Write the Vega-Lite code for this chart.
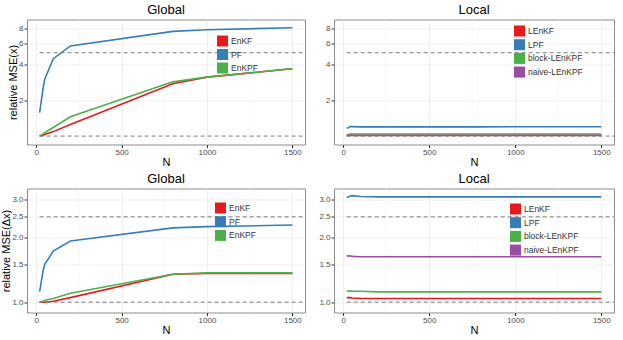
{
  "$schema": "https://vega.github.io/schema/vega-lite/v6.json",
  "padding": {"left": 0, "top": 3.5, "right": 4, "bottom": 0},
  "background": "white",
  "datasets": {
    "gx": [
      {"N": 20, "v": 1.0, "m": "EnKF"}, {"N": 40, "v": 1.015, "m": "EnKF"}, {"N": 50, "v": 1.03, "m": "EnKF"}, {"N": 100, "v": 1.09, "m": "EnKF"}, {"N": 200, "v": 1.25, "m": "EnKF"}, {"N": 800, "v": 2.75, "m": "EnKF"}, {"N": 1000, "v": 3.12, "m": "EnKF"}, {"N": 1500, "v": 3.67, "m": "EnKF"},
      {"N": 20, "v": 1.57, "m": "PF"}, {"N": 40, "v": 2.5, "m": "PF"}, {"N": 50, "v": 3.0, "m": "PF"}, {"N": 100, "v": 4.46, "m": "PF"}, {"N": 200, "v": 5.7, "m": "PF"}, {"N": 800, "v": 7.55, "m": "PF"}, {"N": 1000, "v": 7.8, "m": "PF"}, {"N": 1500, "v": 8.1, "m": "PF"},
      {"N": 20, "v": 1.0, "m": "EnKPF"}, {"N": 40, "v": 1.04, "m": "EnKPF"}, {"N": 50, "v": 1.07, "m": "EnKPF"}, {"N": 100, "v": 1.18, "m": "EnKPF"}, {"N": 200, "v": 1.45, "m": "EnKPF"}, {"N": 800, "v": 2.85, "m": "EnKPF"}, {"N": 1000, "v": 3.12, "m": "EnKPF"}, {"N": 1500, "v": 3.68, "m": "EnKPF"}
    ],
    "lx": [
      {"N": 20, "v": 1.01, "m": "LEnKF"}, {"N": 40, "v": 1.01, "m": "LEnKF"}, {"N": 50, "v": 1.01, "m": "LEnKF"}, {"N": 100, "v": 1.01, "m": "LEnKF"}, {"N": 200, "v": 1.01, "m": "LEnKF"}, {"N": 800, "v": 1.01, "m": "LEnKF"}, {"N": 1000, "v": 1.01, "m": "LEnKF"}, {"N": 1500, "v": 1.01, "m": "LEnKF"},
      {"N": 20, "v": 1.16, "m": "LPF"}, {"N": 40, "v": 1.2, "m": "LPF"}, {"N": 50, "v": 1.2, "m": "LPF"}, {"N": 100, "v": 1.195, "m": "LPF"}, {"N": 200, "v": 1.195, "m": "LPF"}, {"N": 800, "v": 1.195, "m": "LPF"}, {"N": 1000, "v": 1.197, "m": "LPF"}, {"N": 1500, "v": 1.197, "m": "LPF"},
      {"N": 20, "v": 1.02, "m": "block-LEnKPF"}, {"N": 40, "v": 1.04, "m": "block-LEnKPF"}, {"N": 50, "v": 1.04, "m": "block-LEnKPF"}, {"N": 100, "v": 1.04, "m": "block-LEnKPF"}, {"N": 200, "v": 1.04, "m": "block-LEnKPF"}, {"N": 800, "v": 1.04, "m": "block-LEnKPF"}, {"N": 1000, "v": 1.04, "m": "block-LEnKPF"}, {"N": 1500, "v": 1.04, "m": "block-LEnKPF"},
      {"N": 20, "v": 1.01, "m": "naive-LEnKPF"}, {"N": 40, "v": 1.015, "m": "naive-LEnKPF"}, {"N": 50, "v": 1.015, "m": "naive-LEnKPF"}, {"N": 100, "v": 1.015, "m": "naive-LEnKPF"}, {"N": 200, "v": 1.015, "m": "naive-LEnKPF"}, {"N": 800, "v": 1.015, "m": "naive-LEnKPF"}, {"N": 1000, "v": 1.015, "m": "naive-LEnKPF"}, {"N": 1500, "v": 1.015, "m": "naive-LEnKPF"}
    ],
    "gdx": [
      {"N": 20, "v": 1.0, "m": "EnKF"}, {"N": 40, "v": 1.0, "m": "EnKF"}, {"N": 50, "v": 1.0, "m": "EnKF"}, {"N": 100, "v": 1.01, "m": "EnKF"}, {"N": 200, "v": 1.05, "m": "EnKF"}, {"N": 800, "v": 1.35, "m": "EnKF"}, {"N": 1000, "v": 1.36, "m": "EnKF"}, {"N": 1500, "v": 1.36, "m": "EnKF"},
      {"N": 20, "v": 1.12, "m": "PF"}, {"N": 40, "v": 1.4, "m": "PF"}, {"N": 50, "v": 1.5, "m": "PF"}, {"N": 100, "v": 1.73, "m": "PF"}, {"N": 200, "v": 1.93, "m": "PF"}, {"N": 800, "v": 2.22, "m": "PF"}, {"N": 1000, "v": 2.25, "m": "PF"}, {"N": 1500, "v": 2.29, "m": "PF"},
      {"N": 20, "v": 1.0, "m": "EnKPF"}, {"N": 40, "v": 1.01, "m": "EnKPF"}, {"N": 50, "v": 1.02, "m": "EnKPF"}, {"N": 100, "v": 1.04, "m": "EnKPF"}, {"N": 200, "v": 1.1, "m": "EnKPF"}, {"N": 800, "v": 1.35, "m": "EnKPF"}, {"N": 1000, "v": 1.37, "m": "EnKPF"}, {"N": 1500, "v": 1.37, "m": "EnKPF"}
    ],
    "ldx": [
      {"N": 20, "v": 1.05, "m": "LEnKF"}, {"N": 40, "v": 1.05, "m": "LEnKF"}, {"N": 50, "v": 1.045, "m": "LEnKF"}, {"N": 100, "v": 1.04, "m": "LEnKF"}, {"N": 200, "v": 1.04, "m": "LEnKF"}, {"N": 800, "v": 1.04, "m": "LEnKF"}, {"N": 1000, "v": 1.04, "m": "LEnKF"}, {"N": 1500, "v": 1.04, "m": "LEnKF"},
      {"N": 20, "v": 3.08, "m": "LPF"}, {"N": 40, "v": 3.12, "m": "LPF"}, {"N": 50, "v": 3.14, "m": "LPF"}, {"N": 100, "v": 3.11, "m": "LPF"}, {"N": 200, "v": 3.1, "m": "LPF"}, {"N": 800, "v": 3.1, "m": "LPF"}, {"N": 1000, "v": 3.1, "m": "LPF"}, {"N": 1500, "v": 3.1, "m": "LPF"},
      {"N": 20, "v": 1.125, "m": "block-LEnKPF"}, {"N": 40, "v": 1.13, "m": "block-LEnKPF"}, {"N": 50, "v": 1.125, "m": "block-LEnKPF"}, {"N": 100, "v": 1.125, "m": "block-LEnKPF"}, {"N": 200, "v": 1.117, "m": "block-LEnKPF"}, {"N": 800, "v": 1.117, "m": "block-LEnKPF"}, {"N": 1000, "v": 1.117, "m": "block-LEnKPF"}, {"N": 1500, "v": 1.117, "m": "block-LEnKPF"},
      {"N": 20, "v": 1.64, "m": "naive-LEnKPF"}, {"N": 40, "v": 1.645, "m": "naive-LEnKPF"}, {"N": 50, "v": 1.635, "m": "naive-LEnKPF"}, {"N": 100, "v": 1.63, "m": "naive-LEnKPF"}, {"N": 200, "v": 1.63, "m": "naive-LEnKPF"}, {"N": 800, "v": 1.63, "m": "naive-LEnKPF"}, {"N": 1000, "v": 1.63, "m": "naive-LEnKPF"}, {"N": 1500, "v": 1.63, "m": "naive-LEnKPF"}
    ],
    "hTop": [{"h": 1}, {"h": 5}],
    "hBot": [{"h": 1}, {"h": 2.5}],
    "xminor": [{"g": 250}, {"g": 750}, {"g": 1250}]
  },
  "columns": 2,
  "spacing": {"row": 4, "column": 12},
  "resolve": {"scale": {"x": "independent", "y": "independent", "color": "independent"}, "legend": {"color": "independent"}},
  "concat": [
    {
      "width": 278, "height": 125,
      "title": "Global",
      "layer": [
        {"data": {"name": "xminor"}, "mark": {"type": "rule", "color": "#f4f4f4", "strokeWidth": 0.6}, "encoding": {"x": {"field": "g", "type": "quantitative"}}},
        {"data": {"name": "gx"}, "mark": {"type": "line", "strokeWidth": 1.6, "clip": true},
         "encoding": {
           "x": {"field": "N", "type": "quantitative", "scale": {"domain": [-54, 1574], "nice": false, "zero": false}, "axis": {"values": [0, 500, 1000, 1500], "format": "d", "title": "N"}},
           "y": {"field": "v", "type": "quantitative", "scale": {"type": "log", "domain": [0.85, 9.5], "nice": false}, "axis": {"values": [2, 4, 6, 8], "format": "d", "title": "relative MSE(x)"}},
           "color": {"field": "m", "type": "nominal", "scale": {"domain": ["EnKF", "PF", "EnKPF"], "range": ["#e41a1c", "#377eb8", "#4daf4a"]},
             "legend": {"orient": "none", "legendX": 190, "legendY": 16, "title": null, "symbolType": "square", "symbolSize": 121, "symbolStrokeWidth": 0, "labelFontSize": 8.5, "labelColor": "#333333", "rowPadding": 2.5, "labelOffset": 3, "padding": 0,
               "encode": {"symbols": {"update": {"fill": {"signal": "datum.value === 'EnKF' ? '#e41a1c' : datum.value === 'PF' ? '#377eb8' : '#4daf4a'"}, "opacity": {"value": 1}}}}}}
         }},
        {"data": {"name": "hTop"}, "mark": {"type": "rule", "color": "#7a7a7a", "strokeDash": [4, 3], "strokeWidth": 1},
         "encoding": {"y": {"field": "h", "type": "quantitative"}, "x": {"datum": 20}, "x2": {"datum": 1574}}}
      ]
    },
    {
      "width": 280, "height": 125,
      "title": "Local",
      "layer": [
        {"data": {"name": "xminor"}, "mark": {"type": "rule", "color": "#f4f4f4", "strokeWidth": 0.6}, "encoding": {"x": {"field": "g", "type": "quantitative"}}},
        {"data": {"name": "lx"}, "mark": {"type": "line", "strokeWidth": 1.6, "clip": true},
         "encoding": {
           "x": {"field": "N", "type": "quantitative", "scale": {"domain": [-54, 1574], "nice": false, "zero": false}, "axis": {"values": [0, 500, 1000, 1500], "format": "d", "title": "N"}},
           "y": {"field": "v", "type": "quantitative", "scale": {"type": "log", "domain": [0.85, 9.5], "nice": false}, "axis": {"values": [2, 4, 6, 8], "format": "d", "title": null}},
           "color": {"field": "m", "type": "nominal", "scale": {"domain": ["LEnKF", "LPF", "block-LEnKPF", "naive-LEnKPF"], "range": ["#e41a1c", "#377eb8", "#4daf4a", "#984ea3"]},
             "legend": {"orient": "none", "legendX": 180, "legendY": 6, "title": null, "symbolType": "square", "symbolSize": 121, "symbolStrokeWidth": 0, "labelFontSize": 8.5, "labelColor": "#333333", "rowPadding": 2.7, "labelOffset": 3, "padding": 0,
               "encode": {"symbols": {"update": {"fill": {"signal": "datum.value === 'LEnKF' ? '#e41a1c' : datum.value === 'LPF' ? '#377eb8' : datum.value === 'block-LEnKPF' ? '#4daf4a' : '#984ea3'"}, "opacity": {"value": 1}}}}}}
         }},
        {"data": {"name": "hTop"}, "mark": {"type": "rule", "color": "#7a7a7a", "strokeDash": [4, 3], "strokeWidth": 1},
         "encoding": {"y": {"field": "h", "type": "quantitative"}, "x": {"datum": 20}, "x2": {"datum": 1574}}}
      ]
    },
    {
      "width": 278, "height": 124,
      "title": "Global",
      "layer": [
        {"data": {"name": "xminor"}, "mark": {"type": "rule", "color": "#f4f4f4", "strokeWidth": 0.6}, "encoding": {"x": {"field": "g", "type": "quantitative"}}},
        {"data": {"name": "gdx"}, "mark": {"type": "line", "strokeWidth": 1.6, "clip": true},
         "encoding": {
           "x": {"field": "N", "type": "quantitative", "scale": {"domain": [-54, 1574], "nice": false, "zero": false}, "axis": {"values": [0, 500, 1000, 1500], "format": "d", "title": "N"}},
           "y": {"field": "v", "type": "quantitative", "scale": {"type": "log", "domain": [0.895, 3.39], "nice": false}, "axis": {"values": [1, 1.5, 2, 2.5, 3], "format": ".1f", "title": "relative MSE(Δx)"}},
           "color": {"field": "m", "type": "nominal", "scale": {"domain": ["EnKF", "PF", "EnKPF"], "range": ["#e41a1c", "#377eb8", "#4daf4a"]},
             "legend": {"orient": "none", "legendX": 188, "legendY": 14, "title": null, "symbolType": "square", "symbolSize": 121, "symbolStrokeWidth": 0, "labelFontSize": 8.5, "labelColor": "#333333", "rowPadding": 2.7, "labelOffset": 3, "padding": 0,
               "encode": {"symbols": {"update": {"fill": {"signal": "datum.value === 'EnKF' ? '#e41a1c' : datum.value === 'PF' ? '#377eb8' : '#4daf4a'"}, "opacity": {"value": 1}}}}}}
         }},
        {"data": {"name": "hBot"}, "mark": {"type": "rule", "color": "#7a7a7a", "strokeDash": [4, 3], "strokeWidth": 1},
         "encoding": {"y": {"field": "h", "type": "quantitative"}, "x": {"datum": 20}, "x2": {"datum": 1574}}}
      ]
    },
    {
      "width": 280, "height": 124,
      "title": "Local",
      "layer": [
        {"data": {"name": "xminor"}, "mark": {"type": "rule", "color": "#f4f4f4", "strokeWidth": 0.6}, "encoding": {"x": {"field": "g", "type": "quantitative"}}},
        {"data": {"name": "ldx"}, "mark": {"type": "line", "strokeWidth": 1.6, "clip": true},
         "encoding": {
           "x": {"field": "N", "type": "quantitative", "scale": {"domain": [-54, 1574], "nice": false, "zero": false}, "axis": {"values": [0, 500, 1000, 1500], "format": "d", "title": "N"}},
           "y": {"field": "v", "type": "quantitative", "scale": {"type": "log", "domain": [0.895, 3.39], "nice": false}, "axis": {"values": [1, 1.5, 2, 2.5, 3], "format": ".1f", "title": null}},
           "color": {"field": "m", "type": "nominal", "scale": {"domain": ["LEnKF", "LPF", "block-LEnKPF", "naive-LEnKPF"], "range": ["#e41a1c", "#377eb8", "#4daf4a", "#984ea3"]},
             "legend": {"orient": "none", "legendX": 176, "legendY": 15, "title": null, "symbolType": "square", "symbolSize": 121, "symbolStrokeWidth": 0, "labelFontSize": 8.5, "labelColor": "#333333", "rowPadding": 2.7, "labelOffset": 3, "padding": 0,
               "encode": {"symbols": {"update": {"fill": {"signal": "datum.value === 'LEnKF' ? '#e41a1c' : datum.value === 'LPF' ? '#377eb8' : datum.value === 'block-LEnKPF' ? '#4daf4a' : '#984ea3'"}, "opacity": {"value": 1}}}}}}
         }},
        {"data": {"name": "hBot"}, "mark": {"type": "rule", "color": "#7a7a7a", "strokeDash": [4, 3], "strokeWidth": 1},
         "encoding": {"y": {"field": "h", "type": "quantitative"}, "x": {"datum": 20}, "x2": {"datum": 1574}}}
      ]
    }
  ],
  "config": {
    "font": "Liberation Sans",
    "view": {"stroke": "#8c8c8c", "strokeWidth": 1},
    "axis": {"domain": false, "gridColor": "#ebebeb", "gridWidth": 0.8, "tickColor": "#333333", "tickSize": 3, "labelColor": "#4d4d4d", "labelFontSize": 8, "labelPadding": 1, "titleFontSize": 11, "titleFontWeight": "normal", "titleColor": "#000000", "titlePadding": 0},
    "title": {"fontSize": 13, "fontWeight": "normal", "offset": 2, "color": "#000000"}
  }
}
